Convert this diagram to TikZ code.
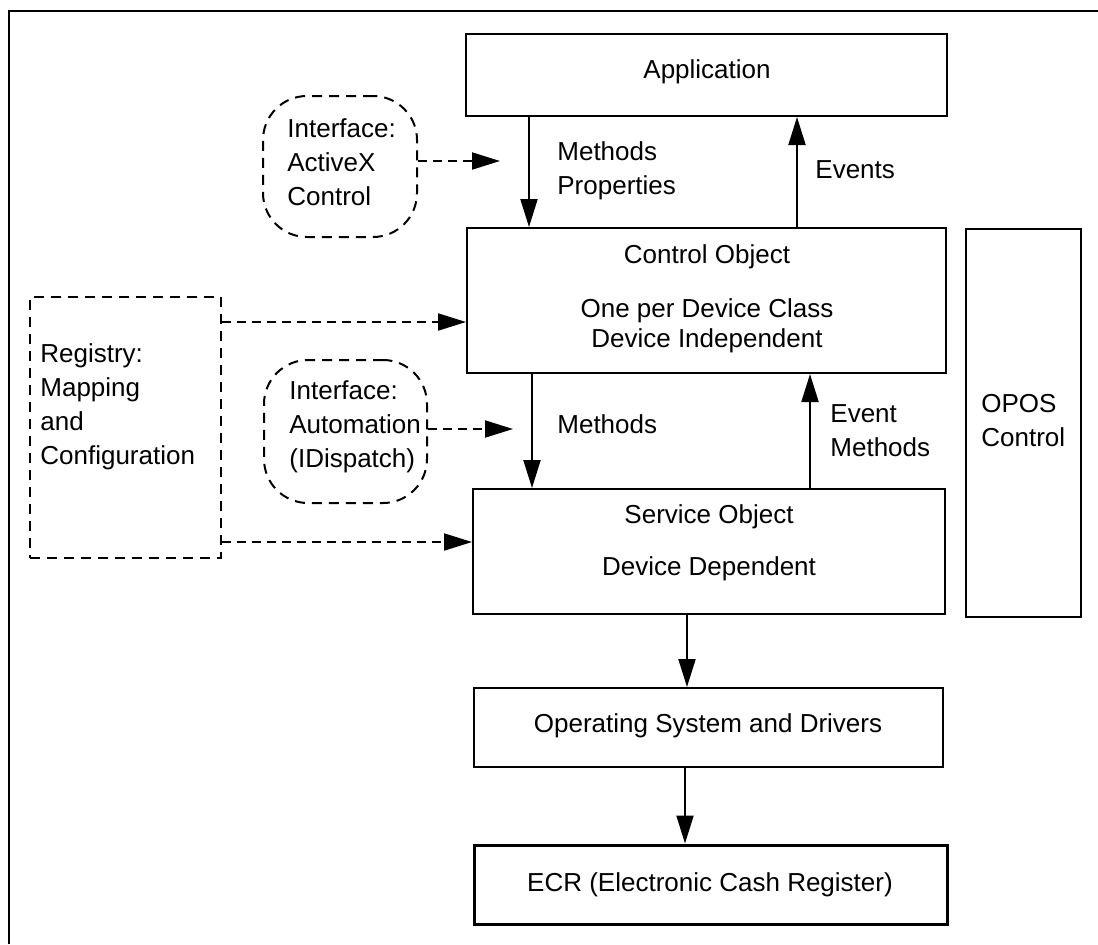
\documentclass[tikz,border=0pt]{standalone}
\usepackage{fontspec}
\setmainfont{Liberation Sans}
\usetikzlibrary{arrows.meta,fit}
\begin{document}
\begin{tikzpicture}[x=0.5pt,y=-0.5pt,
  every node/.style={font=\fontsize{13}{17}\selectfont},
  box/.style={draw,line width=1pt,inner sep=0pt},
  dbox/.style={draw,line width=1pt,inner sep=0pt,dash pattern=on 5pt off 3.5pt},
  rbox/.style={draw,line width=1pt,inner sep=0pt,dash pattern=on 5pt off 3.5pt,rounded corners=22pt},
  txt/.style={inner sep=0pt},
  ltxt/.style={inner sep=0pt,align=left,anchor=west},
  arr/.style={line width=1pt,-{Triangle[length=14pt,width=8.5pt]}},
  darr/.style={line width=1pt,dash pattern=on 4.5pt off 3pt,-{Triangle[length=14pt,width=8.5pt]}}
]
\useasboundingbox (0,0) rectangle (1098,944);
% outer frame
\draw[line width=1pt] (9,944) -- (9,10.5) -- (1098,10.5);

% boxes
\node[box,fit={(466,34) (947,116)}] (app) {};
\node[box,fit={(467,228) (946,373)}] (ctrl) {};
\node[box,fit={(473,489) (945,614)}] (svc) {};
\node[box,fit={(474,688) (943,767)}] (os) {};
\node[box,fit={(474,845) (947,924)},line width=1.5pt] (ecr) {};
\node[box,fit={(966,229) (1081,617)}] (opos) {};
\node[dbox,fit={(30,297) (221,558)}] (reg) {};
\node[rbox,fit={(263,96) (417,237)}] (ax) {};
\node[rbox,fit={(264,360) (427,503)}] (au) {};

% box texts
\node[txt] (apptxt) at (707,72) {Application};
\node[txt] (ostxt) at (708,726) {Operating System and Drivers};
\node[txt] (ecrtxt) at (710,885) {ECR (Electronic Cash Register)};
\node[txt] (ctrlA) at (707,257) {Control Object};
\node[txt] (ctrlB) at (707,311) {One per Device Class};
\node[txt] (ctrlC) at (707,341) {Device Independent};
\node[txt] (svcA) at (709,517) {Service Object};
\node[txt] (svcB) at (709,569) {Device Dependent};
\node[ltxt] (opostxt) at (981,421) {OPOS\\Control};
\node[ltxt] (regtxt) at (40,407) {Registry:\\Mapping\\and\\Configuration};
\node[ltxt] (axtxt) at (287,162) {Interface:\\ActiveX\\Control};
\node[ltxt] (autxt) at (289,427) {Interface:\\Automation\\(IDispatch)};

% arrow labels
\node[ltxt] (l1) at (557,171) {Methods\\Properties};
\node[ltxt] (l2) at (815,170) {Events};
\node[ltxt] (l3) at (557,424) {Methods};
\node[ltxt] (l4) at (830,431) {Event\\Methods};

% solid arrows
\draw[arr] (529,0 |- app.south) -- (529,0 |- ctrl.north);
\draw[arr] (797,0 |- ctrl.north) -- (797,0 |- app.south);
\draw[arr] (532,0 |- ctrl.south) -- (532,0 |- svc.north);
\draw[arr] (810,0 |- svc.north) -- (810,0 |- ctrl.south);
\draw[arr] (687,0 |- svc.south) -- (687,0 |- os.north);
\draw[arr] (685,0 |- os.south) -- (685,0 |- ecr.north);

% dashed arrows
\coordinate (axend) at (500,161);
\coordinate (auend) at (513,429);
\draw[darr] (ax.east |- axend) -- (axend);
\draw[darr] (au.east |- auend) -- (auend);
\draw[darr] (reg.east |- 0,322) -- (ctrl.west |- 0,322);
\draw[darr] (reg.east |- 0,542) -- (svc.west |- 0,542);
\end{tikzpicture}
\end{document}
